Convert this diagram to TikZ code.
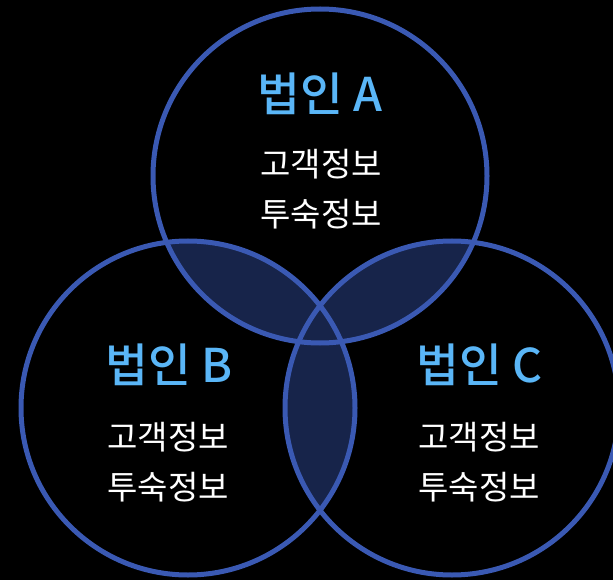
\documentclass[tikz,border=0pt]{standalone}
\usepackage{fontspec}
\newfontfamily\cjk{Noto Sans CJK KR}
\newfontfamily\cjkm{Noto Sans CJK KR Medium}
\definecolor{bg}{HTML}{000000}
\definecolor{ring}{HTML}{3A59B3}
\definecolor{lens}{HTML}{17244A}
\definecolor{ttl}{HTML}{5AB6F7}
\tikzset{
  ringline/.style={draw=ring, line width=5pt},
  title/.style={text=ttl, font=\cjkm\fontsize{46.5}{52}\selectfont, inner sep=0pt, anchor=center},
  body/.style={text=white, font=\cjk\fontsize{33}{38}\selectfont, inner sep=0pt, anchor=center},
}
\begin{document}
\begin{tikzpicture}[x=1pt,y=-1pt]
\fill[bg] (0,0) rectangle (613,580);
\useasboundingbox (0,0) rectangle (613,580);
\def\rr{167}
\coordinate (ca) at (320,176);
\coordinate (cb) at (188,408);
\coordinate (cc) at (452,408);
\begin{scope}
  \clip (ca) circle (\rr);
  \fill[lens] (cb) circle (\rr);
  \fill[lens] (cc) circle (\rr);
\end{scope}
\begin{scope}
  \clip (cb) circle (\rr);
  \fill[lens] (cc) circle (\rr);
\end{scope}
\draw[ringline] (ca) circle (\rr);
\draw[ringline] (cb) circle (\rr);
\draw[ringline] (cc) circle (\rr);
\node[title] (ta) at (320,94) {법인 A};
\node[body] (a1) at (321,164) {고객정보};
\node[body] (a2) at (321,214) {투숙정보};
\node[title] (tb) at (169,365) {법인 B};
\node[body] (b1) at (168,437) {고객정보};
\node[body] (b2) at (168,487) {투숙정보};
\node[title] (tc) at (480,365) {법인 C};
\node[body] (c1) at (479,437) {고객정보};
\node[body] (c2) at (479,487) {투숙정보};
\end{tikzpicture}
\end{document}
